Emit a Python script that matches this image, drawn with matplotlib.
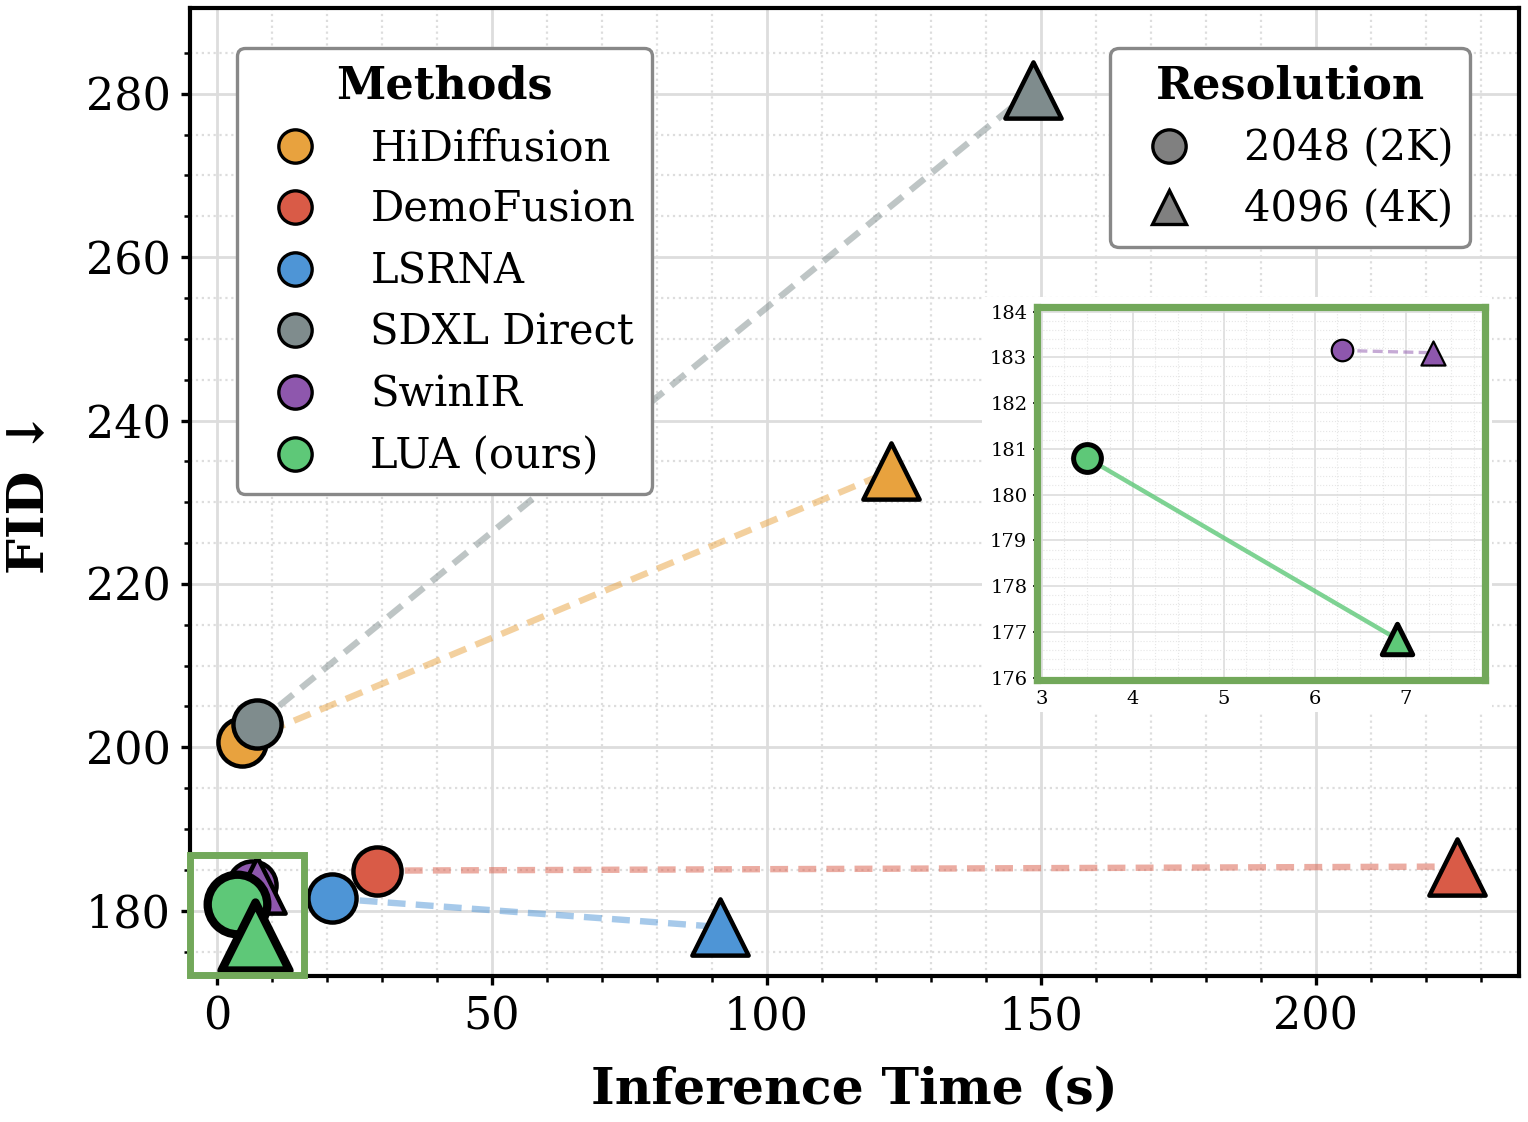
import numpy as np
import matplotlib.pyplot as plt
from matplotlib.lines import Line2D
from matplotlib.patches import Rectangle

plt.rcParams['font.family'] = ['DejaVu Serif', 'DejaVu Sans']

# values
methods = ["HiDiffusion", "DemoFusion", "LSRNA", "SDXL Direct", "SwinIR", "LUA (ours)"]
colors = ["#E8A23E", "#D95B47", "#4E95D6", "#7F8C8D", "#8E57AD", "#5EC878"]
time_2k = [4.5, 29.0, 20.8, 7.3, 6.3, 3.5]
fid_2k = [200.6, 184.9, 181.5, 202.9, 183.15, 180.8]
time_4k = [122.6, 225.7, 91.6, 148.6, 7.3, 6.9]
fid_4k = [233.8, 185.4, 178.0, 280.5, 183.1, 176.85]

res_labels = ["2048 (2K)", "4096 (4K)"]

fig = plt.figure(figsize=(7.64, 5.61), dpi=200)
ax = fig.add_axes([0.1243, 0.1301, 0.8698, 0.8628])

# draw order so gray sits over orange and LUA over SwinIR
order = [0, 3, 1, 2, 4, 5]
for i in order:
    lua = methods[i].startswith("LUA")
    z = 3 + order.index(i) * 2
    ax.plot([time_2k[i], time_4k[i]], [fid_2k[i], fid_4k[i]], color=colors[i],
            alpha=0.5, lw=2.3, ls=(0, (2.8, 1.6)), zorder=z - 1)
    ax.scatter(time_2k[i], fid_2k[i], s=460 if lua else 300, marker='o', color=colors[i],
               edgecolor='black', linewidth=3 if lua else 1.6, zorder=z)
    ax.scatter(time_4k[i], fid_4k[i], s=600 if lua else 410, marker='^', color=colors[i],
               edgecolor='black', linewidth=3 if lua else 1.6, zorder=z + 0.5)

ax.add_patch(Rectangle((-4.9, 172.1), 20.7, 14.7, fill=False, edgecolor="#72A85A",
                       lw=2.5, zorder=20, clip_on=False))

ax.set_xlim(-5, 237)
ax.set_ylim(172, 290.5)
ax.set_xticks([0, 50, 100, 150, 200])
ax.set_yticks([180, 200, 220, 240, 260, 280])
ax.set_xticks(np.arange(10, 237, 10), minor=True)
ax.set_yticks(np.arange(175, 290, 5), minor=True)
ax.grid(True, which='major', color='#dddddd', lw=1.0)
ax.grid(True, which='minor', color='#dddddd', lw=0.8, ls=':')
ax.set_axisbelow(True)
ax.tick_params(which='major', labelsize=16, length=3.4, width=1.2, direction='out')
ax.tick_params(which='minor', length=2, width=0.9, direction='out')
for sp in ax.spines.values():
    sp.set_linewidth(1.5)

ax.set_xlabel("Inference Time (s)", fontsize=18.2, fontweight='bold', labelpad=10)
ax.set_ylabel("FID ↓", fontsize=18.2, fontweight='bold', labelpad=11)

# legends
m_handles = [Line2D([], [], marker='o', ls='none', markersize=12, markerfacecolor=c,
                    markeredgecolor='black', markeredgewidth=1.2) for c in colors]
leg1 = ax.legend(m_handles, methods, title="Methods", loc='upper left',
                 bbox_to_anchor=(0.0354, 0.9587), borderaxespad=0, fontsize=15,
                 title_fontproperties={'weight': 'bold', 'size': 16},
                 handletextpad=0.8, labelspacing=0.47, framealpha=1,
                 edgecolor='#888888', fancybox=True)
leg1.get_frame().set_linewidth(1.2)
ax.add_artist(leg1)

r_handles = [Line2D([], [], marker=m, ls='none', markersize=12, markerfacecolor='#808080',
                    markeredgecolor='black', markeredgewidth=1.2) for m in ['o', '^']]
leg2 = ax.legend(r_handles, res_labels, title="Resolution", loc='upper right',
                 bbox_to_anchor=(0.963, 0.9587), borderaxespad=0, fontsize=15,
                 title_fontproperties={'weight': 'bold', 'size': 16},
                 handletextpad=0.8, labelspacing=0.47, framealpha=1,
                 edgecolor='#888888', fancybox=True)
leg2.get_frame().set_linewidth(1.2)

# white block behind the inset
fig.patches.append(Rectangle((982 / 1528, 1 - 712 / 1122), 510 / 1528, 415 / 1122,
                             transform=fig.transFigure, facecolor='white',
                             edgecolor='none', zorder=1))

ins = fig.add_axes([1037 / 1528, 1 - 680 / 1122, 448 / 1528, 373 / 1122])
ins.set_zorder(2)
for i in [4, 5]:
    lua = methods[i].startswith("LUA")
    ins.plot([time_2k[i], time_4k[i]], [fid_2k[i], fid_4k[i]], color=colors[i],
             alpha=0.8 if lua else 0.5, lw=1.6 if lua else 1.2,
             ls='-' if lua else (0, (3, 1.6)), zorder=2)
    ins.scatter(time_2k[i], fid_2k[i], s=100 if lua else 60, marker='o', color=colors[i],
                edgecolor='black', linewidth=1.8 if lua else 0.8, zorder=3)
    ins.scatter(time_4k[i], fid_4k[i], s=120 if lua else 75, marker='^', color=colors[i],
                edgecolor='black', linewidth=1.8 if lua else 0.8, zorder=3)
ins.set_xlim(2.95, 7.87)
ins.set_ylim(175.95, 184.1)
ins.set_xticks([3, 4, 5, 6, 7])
ins.set_yticks(np.arange(176, 185, 1))
ins.set_xticks(np.arange(3.25, 7.87, 0.25), minor=True)
ins.set_yticks(np.arange(176.2, 184.1, 0.2), minor=True)
ins.grid(True, which='major', color='#dddddd', lw=0.6)
ins.grid(True, which='minor', color='#e6e6e6', lw=0.4, ls=':')
ins.set_axisbelow(True)
ins.tick_params(which='major', labelsize=7, length=1.5, width=0.6, pad=2)
ins.tick_params(which='minor', length=0)
for sp in ins.spines.values():
    sp.set_linewidth(2.6)
    sp.set_edgecolor("#72A85A")

fig.savefig("out.png", dpi=200)
